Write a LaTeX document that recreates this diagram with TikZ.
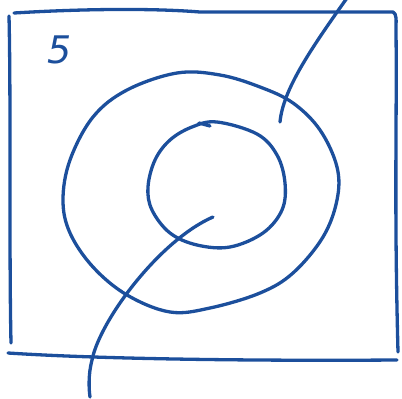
\documentclass[tikz,border=0pt]{standalone}
\usepackage{fontspec}
\newfontfamily\handfont{DejaVu Sans}
\definecolor{ink}{HTML}{1C4F9C}
\tikzset{pen/.style={draw=ink,line width=3.3pt,line cap=round,line join=round}}
\begin{document}
\begin{tikzpicture}[x=1pt,y=-1pt]
\useasboundingbox (0,0) rectangle (402,399);
% frame
\draw[pen] (9,16) .. controls (11,100) and (9,250) .. (11,343);
\draw[pen] (14,13) .. controls (80,9) and (150,8) .. (200,12) -- (393,12)
  .. controls (397,14) and (396,20) .. (396,30)
  .. controls (397,120) and (394,200) .. (398,352);
\draw[pen] (8,353) .. controls (100,359) and (250,361) .. (397,360);
% label
\node[text=ink,font=\handfont\fontsize{38}{38}\selectfont\itshape] (lab) at (60,50) {5};
% outer ring
\draw[pen] plot[smooth cycle,tension=0.6] coordinates {
 (177,73) (220,75) (260,87) (293,103) (320,130) (337,167) (337,200)
 (323,237) (293,273) (260,293) (210,308) (170,312) (127,295) (93,267)
 (70,233) (63,200) (70,160) (93,117) (127,90)};
% inner ring
\draw[pen] plot[smooth cycle,tension=0.6] coordinates {
 (217,122) (257,134) (277,155) (285,183) (282,210) (263,233)
 (230,247) (197,245) (170,233) (152,210) (148,187) (155,160) (170,140)
 (192,127)};
\draw[pen] (199,123) -- (210,126);
% curves
\draw[pen] (347,-2) .. controls (310,50) and (283,90) .. (280,122);
\draw[pen] (213,217) .. controls (160,240) and (100,320) .. (92,360)
  .. controls (88,375) and (89,390) .. (90,397);
\end{tikzpicture}
\end{document}
